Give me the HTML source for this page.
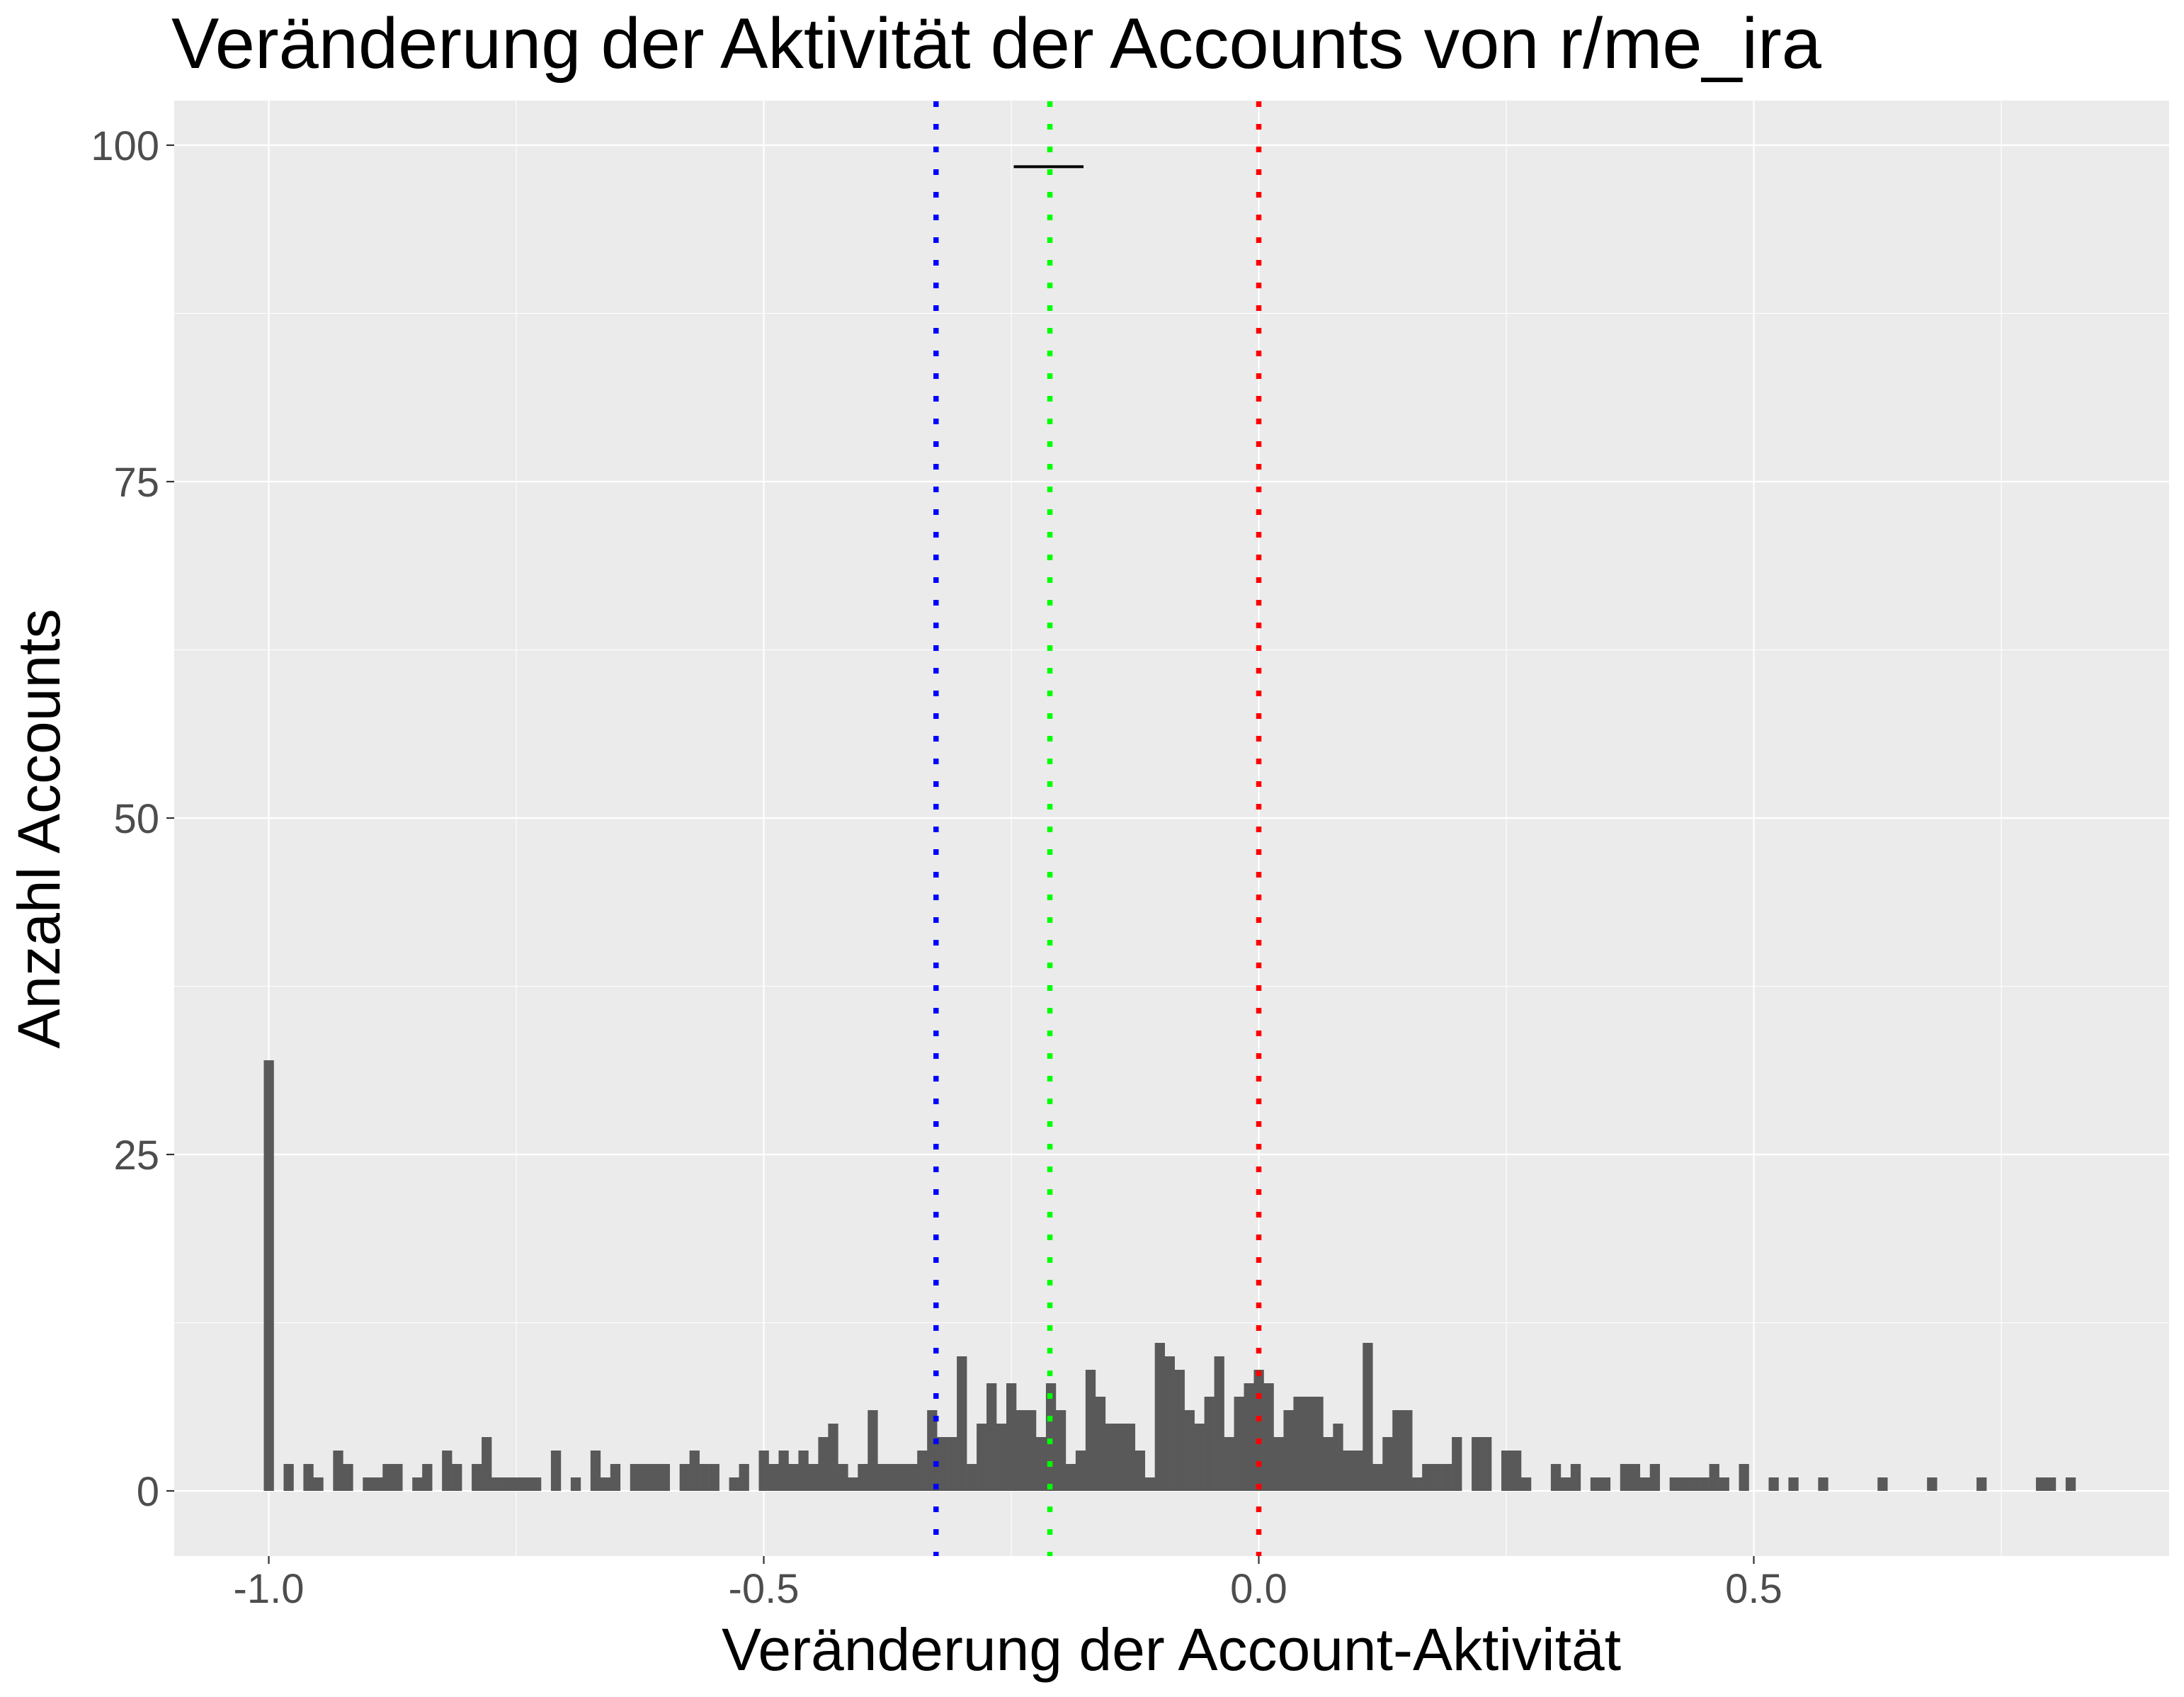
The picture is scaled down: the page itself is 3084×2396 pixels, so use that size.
<!DOCTYPE html>
<html><head><meta charset="utf-8">
<style>
html,body{margin:0;padding:0;background:#fff;}
svg{display:block;font-family:"Liberation Sans",Arial,sans-serif;}
</style></head>
<body>
<svg id="chart" width="3084" height="2396" viewBox="0 0 3084 2396" xmlns="http://www.w3.org/2000/svg">
<rect x="0" y="0" width="3084" height="2396" fill="#ffffff"/>
<text x="242" y="96" font-size="101" fill="#000">Veränderung der Aktivität der Accounts von r/me_ira</text>
<rect x="246" y="142" width="2817" height="2055" fill="#ebebeb"/>
<g id="grid"></g>
<g id="bars"></g>
<g id="vlines"></g>
<g id="axes"></g>
<text x="1654" y="2358" font-size="84" text-anchor="middle" fill="#000">Veränderung der Account-Aktivität</text>
<text transform="translate(84,1170) rotate(-90)" font-size="84" text-anchor="middle" fill="#000">Anzahl Accounts</text>
</svg>
<script>
// bin centres (change in activity), bin width 0.01
const binCenters = [-1.00,-0.98,-0.96,-0.95,-0.93,-0.92,-0.90,-0.89,-0.88,-0.87,-0.85,-0.84,-0.82,-0.81,-0.79,-0.78,-0.77,-0.76,-0.75,-0.74,-0.73,-0.71,-0.69,-0.67,-0.66,-0.65,-0.63,-0.62,-0.61,-0.60,-0.58,-0.57,-0.56,-0.55,-0.53,-0.52,
-0.50,-0.49,-0.48,-0.47,-0.46,-0.45,-0.44,-0.43,-0.42,-0.41,-0.40,-0.39,-0.38,-0.37,-0.36,-0.35,-0.34,-0.33,-0.32,-0.31,-0.30,-0.29,-0.28,-0.27,-0.26,-0.25,-0.24,-0.23,-0.22,-0.21,-0.20,-0.19,-0.18,-0.17,-0.16,-0.15,-0.14,-0.13,-0.12,-0.11,-0.10,-0.09,-0.08,-0.07,-0.06,-0.05,-0.04,-0.03,-0.02,-0.01,
0.00,0.01,0.02,0.03,0.04,0.05,0.06,0.07,0.08,0.09,0.10,0.11,0.12,0.13,0.14,0.15,0.16,0.17,0.18,0.19,0.20,0.22,0.23,0.25,0.26,0.27,0.30,0.31,0.32,0.34,0.35,0.37,0.38,0.39,0.40,0.42,0.43,0.44,0.45,0.46,0.47,0.49,0.52,0.54,0.57,0.63,0.68,0.73,0.79,0.80,0.82];
const binCounts = [32,2,2,1,3,2,1,1,2,2,1,2,3,2,2,4,1,1,1,1,1,3,1,3,1,2,2,2,2,2,2,3,2,2,1,2,
3,2,3,2,3,2,4,5,2,1,2,6,2,2,2,2,3,6,4,4,10,2,5,8,5,8,6,6,4,8,6,2,3,9,7,5,5,5,3,1,11,10,9,6,5,7,10,4,7,8,
9,8,4,6,7,7,7,4,5,3,3,11,2,4,6,6,1,2,2,2,4,4,4,3,3,1,2,1,2,1,1,2,2,1,2,1,1,1,1,2,1,2,1,1,1,1,1,1,1,1,1];
const refLineValues = [-0.326, -0.211, 0.0];
const refLineColors = ['#0000ff','#00ff00','#ff0000'];
const refLineNames = ['mean-line-blue','median-line-green','zero-line-red'];
const segmentX = [-0.2475, -0.177];
const segmentY = [98.4];
const xTicks = [-1.0,-0.5,0.0,0.5];
const xTickLabels = ['-1.0','-0.5','0.0','0.5'];
const xMinor = [-0.75,-0.25,0.25,0.75];
const yTicks = [0,25,50,75,100];
const yTickLabels = ['0','25','50','75','100'];
const yMinor = [12.5,37.5,62.5,87.5];

const NS='http://www.w3.org/2000/svg';
const PL=246, PR=3063, PT=142, PB=2197;
function X(v){return 1777.5 + v*1398;}
function Y(v){return 2105 - v*19;}
const binW = 0.01;
function mk(tag, attrs, parent){const e=document.createElementNS(NS,tag);for(const k in attrs)e.setAttribute(k,attrs[k]);parent.appendChild(e);return e;}

const grid=document.getElementById('grid');
yMinor.forEach(v=>{const l=mk('line',{x1:PL,x2:PR,y1:Y(v),y2:Y(v),stroke:'#fff','stroke-width':1.1},grid);

});
xMinor.forEach(v=>{const l=mk('line',{x1:X(v),x2:X(v),y1:PT,y2:PB,stroke:'#fff','stroke-width':1.1},grid);

});
yTicks.forEach(v=>{const l=mk('line',{x1:PL,x2:PR,y1:Y(v),y2:Y(v),stroke:'#fff','stroke-width':2.2},grid);

});
xTicks.forEach(v=>{const l=mk('line',{x1:X(v),x2:X(v),y1:PT,y2:PB,stroke:'#fff','stroke-width':2.2},grid);

});

const bars=document.getElementById('bars');
binCenters.forEach((c,i)=>{
  const x1=X(c-binW/2), x2=X(c+binW/2), y=Y(binCounts[i]);
  const r=mk('rect',{x:x1,y:y,width:x2-x1+0.3,height:Y(0)-y,fill:'#595959'},bars);
  
  
});

const vl=document.getElementById('vlines');
refLineValues.forEach((v,i)=>{
  const l=mk('line',{x1:X(v),x2:X(v),y1:PT,y2:PB,stroke:refLineColors[i],'stroke-width':7.5,'stroke-dasharray':'8 24','stroke-dashoffset':'-1'},vl);
  
  
});
const seg=mk('line',{x1:X(segmentX[0]),x2:X(segmentX[1]),y1:Y(segmentY[0]),y2:Y(segmentY[0]),stroke:'#000','stroke-width':4},vl);



const ax=document.getElementById('axes');
yTicks.forEach((v,i)=>{
  const t=mk('line',{x1:PL-11,x2:PL,y1:Y(v),y2:Y(v),stroke:'#333','stroke-width':2.2},ax);
  
  
  const tx=mk('text',{x:PL-21,y:Y(v)+21,'font-size':58,'text-anchor':'end',fill:'#4d4d4d'},ax);
  tx.textContent=yTickLabels[i];
  
  
});
xTicks.forEach((v,i)=>{
  const t=mk('line',{x1:X(v),x2:X(v),y1:PB,y2:PB+11,stroke:'#333','stroke-width':2.2},ax);
  
  
  const tx=mk('text',{x:X(v),y:PB+66,'font-size':58,'text-anchor':'middle',fill:'#4d4d4d'},ax);
  tx.textContent=xTickLabels[i];
  
  
});
</script>
</body></html>
